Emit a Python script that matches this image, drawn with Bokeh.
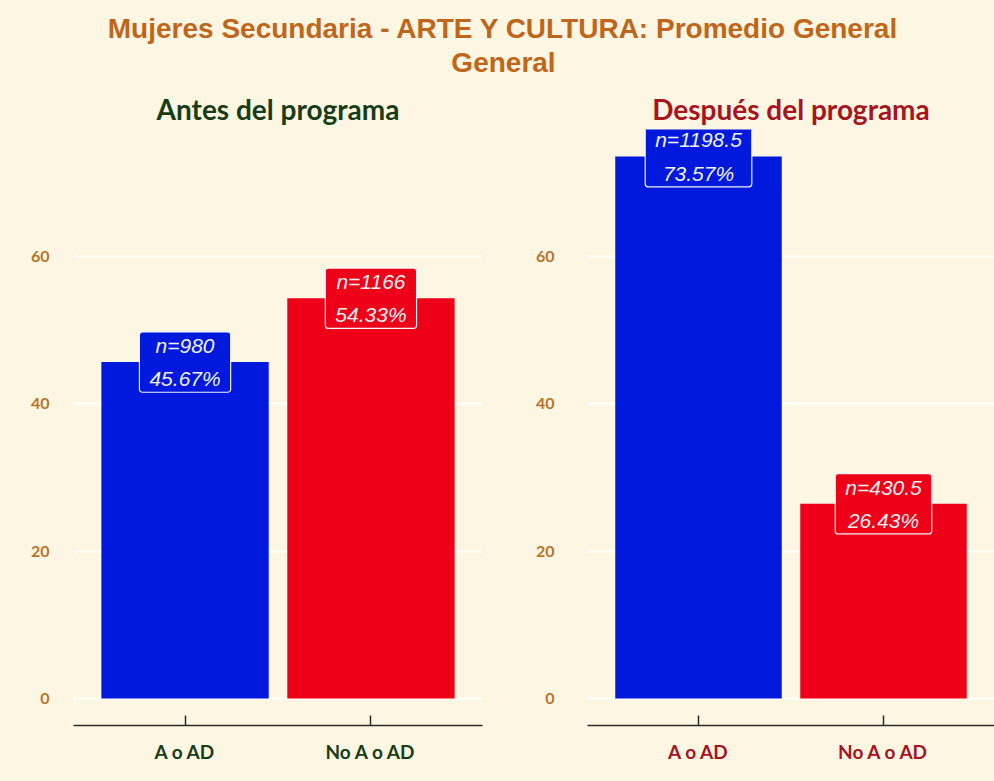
from bokeh.plotting import figure
from bokeh.layouts import column, row
from bokeh.models import ColumnDataSource, Range1d, FixedTicker
from bokeh.embed import file_html
from bokeh.resources import INLINE
from bokeh.core.properties import value

categories = ["A o AD", "No A o AD"]
antes_pct = [45.67, 54.33]
antes_n = ["980", "1166"]
despues_pct = [73.57, 26.43]
despues_n = ["1198.5", "430.5"]
bar_colors = ["#0019DC", "#EE0019"]

main_title = "Mujeres Secundaria - ARTE Y CULTURA: Promedio General\nGeneral"
panel_titles = ["Antes del programa", "Después del programa"]
panel_colors = ["#173D17", "#A8141E"]

BG = "#FDF6E3"
TICK_COL = "#B8742A"
FONT = "Lato"

# title figure
t = figure(width=994, height=85, x_range=Range1d(0, 1), y_range=Range1d(0, 1),
           output_backend="svg", toolbar_location=None,
           background_fill_color=BG, border_fill_color=BG, outline_line_color=None,
           min_border=0)
t.axis.visible = False
t.grid.visible = False
t.text(x=[503 / 994], y=[1 - 45 / 85], text=[main_title], text_align="center",
       text_baseline="middle", text_font=value("Liberation Sans"),
       text_font_style="bold", text_font_size="28px", text_color="#C0661A",
       text_line_height=1.08)


def panel(pct, ns, title, tcol, left_border, right_border, width, ystandoff):
    p = figure(width=width, height=696, x_range=Range1d(0.4, 2.6),
               y_range=Range1d(-3.68, 77.25), output_backend="svg",
               toolbar_location=None, background_fill_color=BG,
               border_fill_color=BG, outline_line_color=None,
               min_border_left=left_border, min_border_right=right_border,
               min_border_top=10, min_border_bottom=56)
    p.title.text = title
    p.title.align = "center"
    p.title.text_color = tcol
    p.title.text_font = FONT
    p.title.text_font_size = "28px"
    p.title.text_font_style = "bold"
    p.title.standoff = 8
    xs = [i + 1 for i in range(len(categories))]
    src = ColumnDataSource(dict(
        x=xs, top=pct, color=bar_colors,
        label=[f"n={n}\n{v:.2f}%" for n, v in zip(ns, pct)],
    ))
    p.vbar(x="x", top="top", bottom=0, width=0.9, fill_color="color",
           line_color=None, source=src)
    p.text(x="x", y="top", text="label", source=src, text_align="center",
           text_baseline="middle", text_font=value("Liberation Sans"),
           text_font_style="italic", text_font_size="21px",
           text_color="#F0F0F0", text_line_height=1.45,
           background_fill_color="color", border_line_color="#F4F4F4",
           border_line_width=1.2, padding=[10, 10, 2, 2], border_radius=3)
    p.xaxis.ticker = FixedTicker(ticks=xs)
    p.xaxis.major_label_overrides = {x: c for x, c in zip(xs, categories)}
    p.xaxis.major_label_text_color = tcol
    p.xaxis.major_label_text_font = FONT
    p.xaxis.major_label_text_font_size = "19px"
    p.xaxis.major_label_text_font_style = "bold"
    p.xaxis.major_label_standoff = 14
    p.xaxis.axis_line_color = "#2b2b2b"
    p.xaxis.axis_line_width = 1.5
    p.xaxis.major_tick_in = 10
    p.xaxis.major_tick_out = 0
    p.xaxis.major_tick_line_color = "#2b2b2b"
    p.xaxis.major_tick_line_width = 1.5
    p.xaxis.minor_tick_line_color = None
    p.yaxis.ticker = FixedTicker(ticks=[0, 20, 40, 60])
    p.yaxis.axis_line_color = None
    p.yaxis.major_tick_line_color = None
    p.yaxis.minor_tick_line_color = None
    p.yaxis.major_label_text_color = TICK_COL
    p.yaxis.major_label_text_font = FONT
    p.yaxis.major_label_text_font_size = "16px"
    p.yaxis.major_label_text_font_style = "bold"
    p.yaxis.major_label_standoff = ystandoff
    p.xgrid.grid_line_color = None
    p.ygrid.grid_line_color = "#FFFFFF"
    p.ygrid.grid_line_width = 2
    return p


p1 = panel(antes_pct, antes_n, panel_titles[0], panel_colors[0], 73, 15, 497, 18)
p2 = panel(despues_pct, despues_n, panel_titles[1], panel_colors[1], 90, 0, 497, 27)

layout = column(t, row(p1, p2, spacing=0), spacing=0, styles={"background-color": BG})
open("out.html", "w").write(file_html(layout, INLINE))
